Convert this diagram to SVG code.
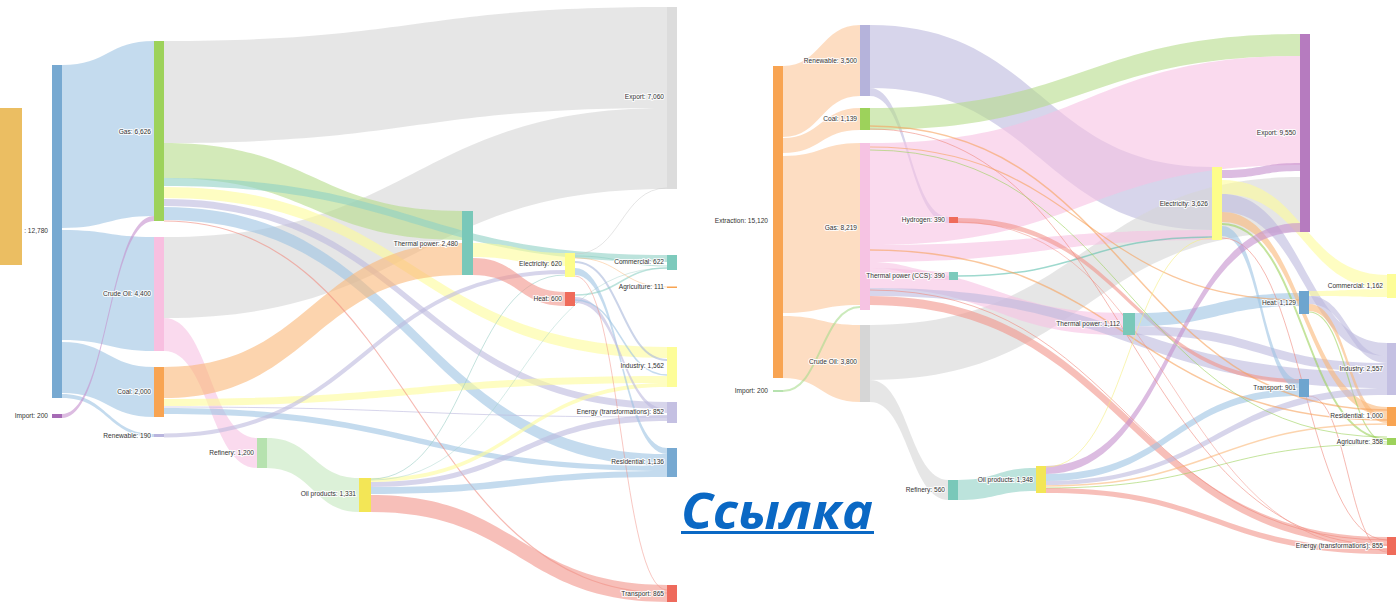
<svg xmlns="http://www.w3.org/2000/svg" width="1396" height="606" viewBox="0 0 1396 606">
<style>
.b{fill-opacity:.6;stroke:none}
.blue{fill:#9DC3E2}.gray{fill:#D6D6D6}.green{fill:#B5DC8A}.teal{fill:#8FD0C4}.yellow{fill:#FDFB9A}
.lav{fill:#BDB9DE}.pink{fill:#F7C2E2}.red{fill:#F2948A}.orange{fill:#FAB878}.peach{fill:#FCC799}.purple{fill:#C590CD}.lgreen{fill:#C5E8BE}
.l{fill:none;stroke-opacity:.6}
.t{font-family:"Liberation Sans",Arial,sans-serif;font-size:6.6px;fill:#333;text-anchor:end;stroke:#fff;stroke-width:2.2px;stroke-opacity:.85;paint-order:stroke;stroke-linejoin:round}
</style>
<rect width="1396" height="606" fill="#fff"/>
<g id="connectors">
<!-- left diagram -->
<path class="b blue" d="M62 65C108 65 108 41 154 41L154 216C108 216 108 228 62 228Z"/>
<path class="b blue" d="M62 230C108 230 108 237 154 237L154 351C108 351 108 340 62 340Z"/>
<path class="b blue" d="M62 342C108 342 108 367 154 367L154 417C108 417 108 393 62 393Z"/>
<path class="b blue" d="M62 394C108 394 108 434 154 434L154 437C108 437 108 398 62 398Z"/>
<path class="b purple" d="M62 414C108 414 108 216 154 216L154 221C108 221 108 418 62 418Z"/>
<path class="b gray" d="M164 41C415 41 415 7 667 7L667 108C415 108 415 143 164 143Z"/>
<path class="b gray" d="M164 237C415 237 415 108 667 108L667 189C415 189 415 318 164 318Z"/>
<path class="b green" d="M164 143C313 143 313 211 462 211L462 240C313 240 313 178 164 178Z"/>
<path class="b teal" d="M164 178C415 178 415 255 667 255L667 262C415 262 415 186 164 186Z"/>
<path class="b yellow" d="M164 187C415 187 415 347 667 347L667 358C415 358 415 198 164 198Z"/>
<path class="b lav" d="M164 199C415 199 415 402 667 402L667 409C415 409 415 206 164 206Z"/>
<path class="b blue" d="M164 207C415 207 415 454 667 454L667 466C415 466 415 220 164 220Z"/>
<path class="b pink" d="M164 318C210 318 210 438 257 438L257 468C210 468 210 351 164 351Z"/>
<path class="b orange" d="M164 367C313 367 313 243 462 243L462 275C313 275 313 398 164 398Z"/>
<path class="b yellow" d="M164 399C415 399 415 376 667 376L667 383C415 383 415 406 164 406Z"/>
<path class="b blue" d="M164 408C415 408 415 466 667 466L667 471C415 471 415 414 164 414Z"/>
<path class="l" stroke="#BDB9DE" stroke-width="1" d="M164 407C415 407 415 417 667 417"/>
<path class="l" stroke="#F08A7E" stroke-width="1.2" d="M164 221C415 221 415 593 667 593"/>
<path class="l" stroke="#BDB9DE" stroke-width="4" d="M164 435.5C365 435.5 365 272 565 272"/>
<path class="b lgreen" d="M267 438C313 438 313 478 359 478L359 512C313 512 313 468 267 468Z"/>
<path class="b red" d="M371 495C519 495 519 585 667 585L667 602C519 602 519 512 371 512Z"/>
<path class="b blue" d="M371 487C519 487 519 471 667 471L667 477C519 477 519 494 371 494Z"/>
<path class="b lav" d="M371 482C519 482 519 415 667 415L667 421C519 421 519 487 371 487Z"/>
<path class="b yellow" d="M371 478C519 478 519 383 667 383L667 387C519 387 519 482 371 482Z"/>
<path class="l" stroke="#9CCFC6" stroke-width="1" d="M371 479C468 479 468 275 565 275"/>
<path class="l" stroke="#9CCFC6" stroke-width=".7" d="M371 480C519 480 519 268 667 268"/>
<path class="b red" d="M473 258C519 258 519 292 565 292L565 306C519 306 519 275 473 275Z"/>
<path class="b yellow" d="M473 243C519 243 519 253 565 253L565 266C519 266 519 257 473 257Z"/>
<path class="b blue" d="M575 268C621 268 621 448 667 448L667 454C621 454 621 275 575 275Z"/>
<path class="b lav" d="M575 297C621 297 621 409 667 409L667 413C621 413 621 303 575 303Z"/>
<path class="l" stroke="#A9B8DB" stroke-width="2" d="M575 262C621 262 621 360 667 360"/>
<path class="l" stroke="#9DC3E2" stroke-width="1.5" d="M575 300C621 300 621 375 667 375"/>
<path class="l" stroke="#8FD0C4" stroke-width="1.5" d="M575 295C621 295 621 268 667 268"/>
<path class="l" stroke="#8FD0C4" stroke-width="1" d="M575 256C621 256 621 266 667 266"/>
<path class="l" stroke="#FAB878" stroke-width=".8" d="M575 258C621 258 621 287 667 287"/>
<path class="l" stroke="#C8C8C8" stroke-width=".8" d="M575 254C621 254 621 188 667 188"/>
<path class="l" stroke="#F08A7E" stroke-width=".8" d="M575 276C621 276 621 590 667 590"/>
<!-- right diagram -->
<path class="b peach" d="M783 66C821 66 821 25 860 25L860 96C821 96 821 137 783 137Z"/>
<path class="b peach" d="M783 138C821 138 821 108 860 108L860 130C821 130 821 153 783 153Z"/>
<path class="b peach" d="M783 156C821 156 821 143 860 143L860 305C821 305 821 313 783 313Z"/>
<path class="b peach" d="M783 316C821 316 821 325 860 325L860 402C821 402 821 378 783 378Z"/>
<path class="l" stroke="#A9DC8E" stroke-width="2" d="M783 391C821 391 821 307 860 307"/>
<path class="b lav" d="M870 25C1041 25 1041 167 1212 167L1212 230C1041 230 1041 88 870 88Z"/>
<path class="b lav" d="M870 88C909 88 909 217 949 217L949 223C909 223 909 96 870 96Z"/>
<path class="b green" d="M870 108C1085 108 1085 34 1300 34L1300 56C1085 56 1085 130 870 130Z"/>
<path class="b pink" d="M870 143C1085 143 1085 56 1300 56L1300 165C1085 165 1085 245 870 245Z"/>
<path class="b gray" d="M870 325C1085 325 1085 177 1300 177L1300 232C1085 232 1085 380 870 380Z"/>
<path class="b gray" d="M870 380C909 380 909 480 949 480L949 500C909 500 909 402 870 402Z"/>
<path class="b pink" d="M870 245C1041 245 1041 230 1212 230L1212 240C1041 240 1041 262 870 262Z"/>
<path class="b pink" d="M870 262C909 262 909 272 949 272L949 280C909 280 909 268 870 268Z"/>
<path class="b pink" d="M870 268C996 268 996 313 1123 313L1123 335C996 335 996 288 870 288Z"/>
<path class="b lav" d="M870 288C1128 288 1128 372 1387 372L1387 388C1128 388 1128 296 870 296Z"/>
<path class="b red" d="M870 296C1128 296 1128 537 1387 537L1387 546C1128 546 1128 305 870 305Z"/>
<path class="l" stroke="#5EC0AE" stroke-width="1.5" d="M958 276C1085 276 1085 237 1212 237"/>
<path class="b red" d="M958 218C1129 218 1129 379 1300 379L1300 383C1129 383 1129 223 958 223Z"/>
<path class="b blue" d="M1135 313C1217 313 1217 293 1300 293L1300 306C1217 306 1217 326 1135 326Z"/>
<path class="b lav" d="M1135 326C1261 326 1261 363 1387 363L1387 372C1261 372 1261 335 1135 335Z"/>
<path class="b purple" d="M1222 170C1261 170 1261 163 1300 163L1300 171C1261 171 1261 178 1222 178Z"/>
<path class="b yellow" d="M1222 180C1304 180 1304 275 1387 275L1387 289C1304 289 1304 194 1222 194Z"/>
<path class="b lav" d="M1222 194C1304 194 1304 343 1387 343L1387 356C1304 356 1304 212 1222 212Z"/>
<path class="b orange" d="M1222 212C1304 212 1304 407 1387 407L1387 416C1304 416 1304 222 1222 222Z"/>
<path class="l" stroke="#9DD25B" stroke-width="2" d="M1222 224C1304 224 1304 439 1387 439"/>
<path class="b blue" d="M1222 226C1261 226 1261 380 1300 380L1300 389C1261 389 1261 236 1222 236Z"/>
<path class="l" stroke="#F08A7E" stroke-width="1" d="M1222 238C1304 238 1304 540 1387 540"/>
<path class="b yellow" d="M1309 291C1348 291 1348 289 1387 289L1387 297C1348 297 1348 296 1309 296Z"/>
<path class="b lav" d="M1309 296C1348 296 1348 356 1387 356L1387 363C1348 363 1348 304 1309 304Z"/>
<path class="b orange" d="M1309 304C1348 304 1348 416 1387 416L1387 423C1348 423 1348 311 1309 311Z"/>
<path class="l" stroke="#9DD25B" stroke-width="1.2" d="M1309 312C1348 312 1348 442 1387 442"/>
<path class="l" stroke="#F08A7E" stroke-width="1" d="M1309 396C1348 396 1348 552 1387 552"/>
<path class="b purple" d="M1046 466C1173 466 1173 223 1300 223L1300 232C1173 232 1173 474 1046 474Z"/>
<path class="b blue" d="M1046 474C1173 474 1173 389 1300 389L1300 396C1173 396 1173 481 1046 481Z"/>
<path class="b lav" d="M1046 481C1216 481 1216 388 1387 388L1387 395C1216 395 1216 485 1046 485Z"/>
<path class="l" stroke="#FAB878" stroke-width="1.5" d="M1046 486C1216 486 1216 424 1387 424"/>
<path class="l" stroke="#9DD25B" stroke-width="1" d="M1046 488C1216 488 1216 444 1387 444"/>
<path class="b red" d="M1046 488C1216 488 1216 548 1387 548L1387 554C1216 554 1216 493 1046 493Z"/>
<path class="b teal" d="M958 480C997 480 997 468 1036 468L1036 491C997 491 997 500 958 500Z"/>
<path class="l" stroke="#F7A15C" stroke-width="1.5" d="M870 126C1128 126 1128 410 1387 410"/>
<path class="l" stroke="#F08A7E" stroke-width="1" d="M870 129C1128 129 1128 545 1387 545"/>
<path class="l" stroke="#9DD25B" stroke-width="1" d="M870 150C1128 150 1128 437 1387 437"/>
<path class="l" stroke="#F7A15C" stroke-width="1.2" d="M870 147C1085 147 1085 300 1300 300"/>
<path class="l" stroke="#F7A15C" stroke-width="1.5" d="M870 250C1128 250 1128 420 1387 420"/>
<path class="l" stroke="#F08A7E" stroke-width="1" d="M870 290C1128 290 1128 540 1387 540"/>
<path class="l" stroke="#F08A7E" stroke-width=".8" d="M958 222C1172 222 1172 550 1387 550"/>
<path class="l" stroke="#F5EE80" stroke-width="1" d="M1046 467C1129 467 1129 238 1212 238"/>
</g>
<!-- left nodes -->
<g id="l-extraction"><rect x="52" y="65" width="10" height="333" fill="#77A9D1"/><text class="t" x="48" y="233">: 12,780</text></g>
<g id="l-import"><rect x="52" y="414" width="10" height="4" fill="#A66BB5"/><text class="t" x="48" y="418">Import: 200</text></g>
<g id="l-gas"><rect x="154" y="41" width="10" height="180" fill="#9DD25B"/><text class="t" x="151" y="134">Gas: 6,626</text></g>
<g id="l-crude"><rect x="154" y="237" width="10" height="114" fill="#F8BFE0"/><text class="t" x="151" y="296">Crude Oil: 4,400</text></g>
<g id="l-coal"><rect x="154" y="367" width="10" height="50" fill="#F8A452"/><text class="t" x="151" y="394">Coal: 2,000</text></g>
<g id="l-renewable"><rect x="154" y="434" width="10" height="3" fill="#B9B5DE"/><text class="t" x="151" y="438">Renewable: 190</text></g>
<g id="l-refinery"><rect x="257" y="438" width="10" height="30" fill="#B6E2AF"/><text class="t" x="254" y="455">Refinery: 1,200</text></g>
<g id="l-oil"><rect x="359" y="478" width="12" height="34" fill="#F3E656"/><text class="t" x="356" y="496">Oil products: 1,331</text></g>
<g id="l-thermal"><rect x="462" y="211" width="11" height="64" fill="#79C8B9"/><text class="t" x="458" y="246">Thermal power: 2,480</text></g>
<g id="l-electricity"><rect x="565" y="253" width="10" height="24" fill="#FDFD8A"/><text class="t" x="562" y="266">Electricity: 620</text></g>
<g id="l-heat"><rect x="565" y="292" width="10" height="14" fill="#EF6B5A"/><text class="t" x="562" y="301">Heat: 600</text></g>
<g id="l-export"><rect x="667" y="7" width="10" height="182" fill="#DCDCDC"/><text class="t" x="664" y="99">Export: 7,060</text></g>
<g id="l-commercial"><rect x="667" y="255" width="10" height="15" fill="#7DCABC"/><text class="t" x="664" y="264">Commercial: 622</text></g>
<g id="l-agriculture"><rect x="667" y="286.5" width="10" height="1.5" fill="#F8A452"/><text class="t" x="664" y="289">Agriculture: 111</text></g>
<g id="l-industry"><rect x="667" y="347" width="10" height="40" fill="#FDFD99"/><text class="t" x="664" y="368">Industry: 1,562</text></g>
<g id="l-energy"><rect x="667" y="402" width="10" height="21" fill="#C4C0E2"/><text class="t" x="664" y="414">Energy (transformations): 852</text></g>
<g id="l-residential"><rect x="667" y="448" width="10" height="29" fill="#77A9D1"/><text class="t" x="664" y="464">Residential: 1,136</text></g>
<g id="l-transport"><rect x="667" y="585" width="10" height="17" fill="#EE6A5C"/><text class="t" x="664" y="596">Transport: 865</text></g>
<!-- right nodes -->
<g id="r-extraction"><rect x="773" y="66" width="10" height="312" fill="#F8A452"/><text class="t" x="768" y="223">Extraction: 15,120</text></g>
<g id="r-import"><rect x="773" y="390" width="10" height="2" fill="#B6E2AF"/><text class="t" x="768" y="393">Import: 200</text></g>
<g id="r-renewable"><rect x="860" y="25" width="10" height="71" fill="#B5B3DB"/><text class="t" x="857" y="63">Renewable: 3,500</text></g>
<g id="r-coal"><rect x="860" y="108" width="10" height="22" fill="#9DD25B"/><text class="t" x="857" y="121">Coal: 1,139</text></g>
<g id="r-gas"><rect x="860" y="143" width="10" height="167" fill="#F6C3E3"/><text class="t" x="857" y="230">Gas: 8,219</text></g>
<g id="r-crude"><rect x="860" y="325" width="10" height="77" fill="#D6D6D6"/><text class="t" x="857" y="364">Crude Oil: 3,800</text></g>
<g id="r-hydrogen"><rect x="949" y="217" width="9" height="6" fill="#EF6B5A"/><text class="t" x="945" y="222">Hydrogen: 390</text></g>
<g id="r-ccs"><rect x="949" y="272" width="9" height="8" fill="#7DCABC"/><text class="t" x="945" y="278">Thermal power (CCS): 390</text></g>
<g id="r-refinery"><rect x="948" y="480" width="10" height="20" fill="#79C8B9"/><text class="t" x="945" y="492">Refinery: 560</text></g>
<g id="r-oil"><rect x="1036" y="466" width="10" height="27" fill="#F3E656"/><text class="t" x="1033" y="482">Oil products: 1,348</text></g>
<g id="r-thermal"><rect x="1123" y="313" width="12" height="22" fill="#79C8B9"/><text class="t" x="1120" y="326">Thermal power: 1,112</text></g>
<g id="r-electricity"><rect x="1212" y="167" width="10" height="73" fill="#FDFD8A"/><text class="t" x="1208" y="206">Electricity: 3,626</text></g>
<g id="r-export"><rect x="1300" y="34" width="10" height="198" fill="#B67BBF"/><text class="t" x="1296" y="135">Export: 9,550</text></g>
<g id="r-heat"><rect x="1299" y="291" width="10" height="23" fill="#6EA5CF"/><text class="t" x="1296" y="305">Heat: 1,129</text></g>
<g id="r-transport"><rect x="1299" y="379" width="10" height="18" fill="#6EA5CF"/><text class="t" x="1296" y="390">Transport: 901</text></g>
<g id="r-commercial"><rect x="1387" y="274" width="9" height="24" fill="#FDFD99"/><text class="t" x="1383" y="288">Commercial: 1,162</text></g>
<g id="r-industry"><rect x="1387" y="343" width="9" height="52" fill="#C4C0E2"/><text class="t" x="1383" y="371">Industry: 2,557</text></g>
<g id="r-residential"><rect x="1387" y="407" width="9" height="19" fill="#F8A452"/><text class="t" x="1383" y="418">Residential: 1,000</text></g>
<g id="r-agriculture"><rect x="1387" y="438" width="9" height="7" fill="#9DD25B"/><text class="t" x="1383" y="444">Agriculture: 358</text></g>
<g id="r-energy"><rect x="1387" y="537" width="9" height="18" fill="#EF6B5A"/><text class="t" x="1383" y="548">Energy (transformations): 855</text></g>
<!-- overlay -->
<rect id="gold-tab" x="0" y="108" width="22" height="157" fill="#EBBE62"/>
<g id="link">
<text x="681" y="529" font-family="'Open Sans','Noto Sans',sans-serif" font-size="51" font-weight="700" font-style="italic" fill="#0A68C4" textLength="192" lengthAdjust="spacingAndGlyphs">Ссылка</text>
<rect x="681" y="531" width="193" height="3" fill="#0A68C4"/>
</g>
</svg>
